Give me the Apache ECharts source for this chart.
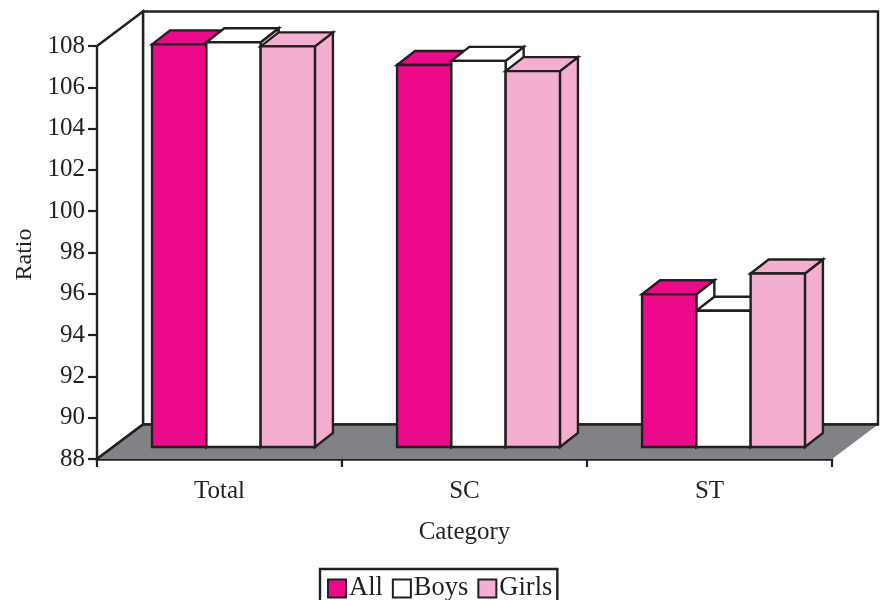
<!DOCTYPE html>
<html>
<head>
<meta charset="utf-8">
<title>Ratio by category</title>
<style>
  html, body { margin: 0; padding: 0; background: #fff; overflow: hidden; }
  #chart { width: 881px; height: 600px; }
</style>
<script src="https://cdn.jsdelivr.net/npm/echarts@6/dist/echarts.min.js"></script>
</head>
<body>
<div id="chart"></div>
<script>
// Values per category
const categories = ['Total', 'SC', 'ST'];
const allValues = [107.5, 106.5, 95.4];
const boysValues = [107.6, 106.7, 94.6];
const girlsValues = [107.4, 106.2, 96.4];
const yTicks = { min: 88, max: 108, step: 2 };

const INK = '#231f20';
const PINK = '#ec0a8a';
const LIGHT_PINK = '#f4aed0';
const WHITE = '#ffffff';
const FLOOR = '#808285';
const FONT = '"Liberation Serif", "Times New Roman", serif';

// Oblique projection of the box: the whole room, and the depth of one bar
const ROOM_DEPTH = [46, -34.5];
const BAR_PLANE = [14, -12];
const BAR_DEPTH = [18, -14];
const BAR_FRACTION = 0.2216;
const LINE = 2.4;

function face(points, fill, width) {
  return {
    type: 'polygon',
    shape: { points },
    style: { fill, stroke: INK, lineWidth: width === undefined ? LINE : width, lineJoin: 'miter' }
  };
}

function edge(from, to, width) {
  return {
    type: 'line',
    shape: { x1: from[0], y1: from[1], x2: to[0], y2: to[1] },
    style: { stroke: INK, lineWidth: width }
  };
}

// Back wall, side wall and floor, derived from the grid rectangle
function renderRoom(params) {
  const c = params.coordSys;
  const [dx, dy] = ROOM_DEPTH;
  const left = c.x, right = c.x + c.width, top = c.y, bottom = c.y + c.height;
  return {
    type: 'group',
    children: [
      face([[left + dx, top + dy], [right + dx, top + dy], [right + dx, bottom + dy], [left + dx, bottom + dy]], WHITE, LINE),
      face([[left, top], [left + dx, top + dy], [left + dx, bottom + dy], [left, bottom]], WHITE, LINE),
      face([[left, bottom], [left + dx, bottom + dy], [right + dx, bottom + dy], [right, bottom]], FLOOR, 0),
      edge([left, bottom], [left + dx, bottom + dy], LINE),
      edge([left + dx, bottom + dy], [right + dx, bottom + dy], LINE)
    ]
  };
}

// One oblique bar: side and top first, then the front face
function barRenderer(slot, frontColor, topColor, sideColor) {
  return function (params, api) {
    const catIndex = api.value(0);
    const bandWidth = api.size([1, 0])[0];
    const w = bandWidth * BAR_FRACTION;
    const centre = api.coord([catIndex, yTicks.min]);
    const head = api.coord([catIndex, api.value(1)]);
    const x0 = centre[0] + BAR_PLANE[0] + (slot - 1.5) * w;
    const x1 = x0 + w;
    const yBase = centre[1] + BAR_PLANE[1];
    const yTop = head[1] + BAR_PLANE[1];
    const [dx, dy] = BAR_DEPTH;
    return {
      type: 'group',
      children: [
        face([[x1, yTop], [x1 + dx, yTop + dy], [x1 + dx, yBase + dy], [x1, yBase]], sideColor),
        face([[x0, yTop], [x0 + dx, yTop + dy], [x1 + dx, yTop + dy], [x1, yTop]], topColor),
        face([[x0, yTop], [x1, yTop], [x1, yBase], [x0, yBase]], frontColor)
      ]
    };
  };
}

function barSeries(name, values, slot, front, top, side) {
  return {
    name,
    type: 'custom',
    z: 3,
    silent: true,
    renderItem: barRenderer(slot, front, top, side),
    itemStyle: { color: front, borderColor: INK, borderWidth: 2 },
    encode: { x: 0, y: 1 },
    data: values.map((v, i) => [i, v])
  };
}

const chart = echarts.init(document.getElementById('chart'), null, { renderer: 'canvas' });
chart.setOption({
  animation: false,
  backgroundColor: '#fff',
  grid: { left: 97, right: 49, top: 46, bottom: 141, containLabel: false },
  xAxis: {
    type: 'category',
    data: categories,
    name: 'Category',
    nameLocation: 'middle',
    nameGap: 61,
    nameTextStyle: { fontFamily: FONT, fontSize: 25, color: INK },
    axisLine: { show: true, lineStyle: { color: INK, width: 2.6 } },
    axisTick: { show: true, length: 8, lineStyle: { color: INK, width: 2.2 } },
    axisLabel: { fontFamily: FONT, fontSize: 25, color: INK, margin: 20 },
    splitLine: { show: false }
  },
  yAxis: {
    type: 'value',
    min: yTicks.min,
    max: yTicks.max,
    interval: yTicks.step,
    name: 'Ratio',
    nameLocation: 'middle',
    nameGap: 60,
    nameTextStyle: { fontFamily: FONT, fontSize: 24, color: INK, padding: [0, 4, 0, 0] },
    axisLine: { show: true, lineStyle: { color: INK, width: 2.6 } },
    axisTick: { show: true, length: 9, lineStyle: { color: INK, width: 2.2 } },
    axisLabel: { fontFamily: FONT, fontSize: 25, color: INK, margin: 12, padding: [6, 0, 0, 0] },
    splitLine: { show: false }
  },
  legend: {
    left: 320,
    top: 569,
    orient: 'horizontal',
    backgroundColor: '#fff',
    borderColor: INK,
    borderWidth: 2.4,
    padding: [6, 5, 4, 7],
    itemGap: 9,
    itemWidth: 18,
    itemHeight: 18,
    icon: 'rect',
    selectedMode: false,
    textStyle: { fontFamily: FONT, fontSize: 26.5, color: INK, padding: [8, 0, 0, -2] },
    data: ['All', 'Boys', 'Girls']
  },
  series: [
    {
      name: 'room',
      type: 'custom',
      z: 1,
      silent: true,
      renderItem: renderRoom,
      data: [[0, yTicks.min]]
    },
    barSeries('All', allValues, 0, PINK, PINK, WHITE),
    barSeries('Boys', boysValues, 1, WHITE, WHITE, WHITE),
    barSeries('Girls', girlsValues, 2, LIGHT_PINK, LIGHT_PINK, LIGHT_PINK)
  ]
});
</script>
</body>
</html>
